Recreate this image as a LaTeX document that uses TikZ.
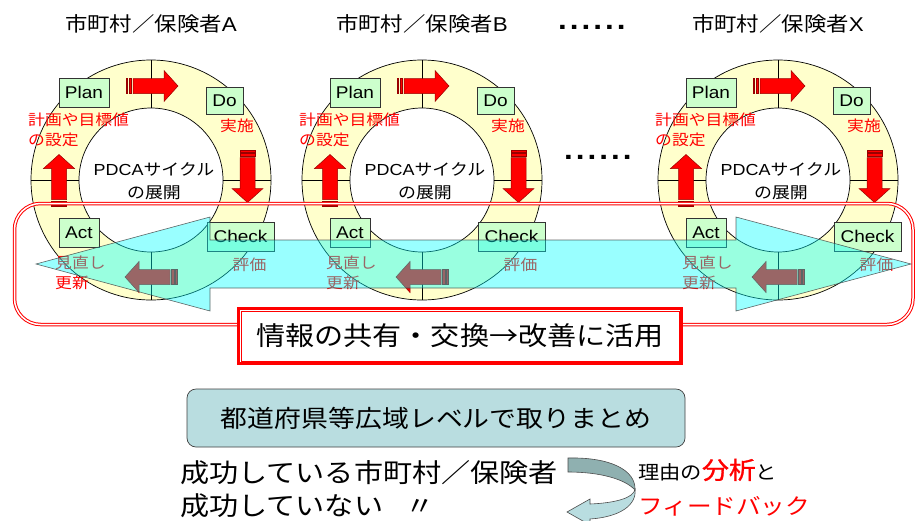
\documentclass[tikz,border=0pt]{standalone}
\usepackage{fontspec}
\setmainfont{Noto Sans CJK JP}[FakeStretch=1.12]
\newfontfamily\lat{Liberation Sans}[FakeStretch=1.12]
\newfontfamily\jpb{Noto Sans CJK JP}[FakeStretch=1.12,FakeBold=1.2]
\definecolor{ringfill}{HTML}{FFFFCC}
\definecolor{boxfill}{HTML}{CCFFCC}
\definecolor{sumfill}{HTML}{B9DDE0}
\definecolor{darkband}{HTML}{8FB0B0}
\definecolor{arrcyan}{HTML}{00FFFF}
\definecolor{arrline}{HTML}{990000}
\newcommand\sixdots{.\kern3pt.\kern3pt.\kern3pt.\kern3pt.\kern3pt.}
\tikzset{
  arrfill/.style={fill=red, draw=arrline, line width=0.5pt},
  redarr/.pic={
    \filldraw[arrfill] (-26,-7.5) rectangle (-24.5,7.5);
    \filldraw[arrfill] (-23,-7.5) rectangle (-20.5,7.5);
    \filldraw[arrfill] (-19,-7.5) -- (12,-7.5) -- (12,-15.5) -- (26,0) -- (12,15.5) -- (12,7.5) -- (-19,7.5) -- cycle;
  },
  ringline/.style={draw=black, line width=0.7pt},
  lbox/.style={draw=black!80, fill=boxfill, line width=0.6pt, inner sep=0pt,
    font=\lat\fontsize{17}{20}\selectfont, text=black},
  redtxt/.style={text=red, font=\fontsize{15}{20}\selectfont, inner sep=0pt, align=left},
  ctrtxt/.style={align=center, font=\fontsize{16}{23}\selectfont, inner sep=0pt},
  headtxt/.style={font=\fontsize{20}{24}\selectfont, inner sep=0pt},
  dotstxt/.style={font=\lat\bfseries\fontsize{28}{30}\selectfont, inner sep=0pt, anchor=base west},
  redframe/.style={draw=red, line width=1pt, double=white, double distance=1.5pt, rounded corners=26pt},
  infobox/.style={draw=red, line width=3pt, fill=white, minimum width=443pt, minimum height=55pt,
    inner sep=0pt, font=\fontsize{26}{30}\selectfont},
  sumbox/.style={draw=black!75, line width=0.7pt, fill=sumfill, rounded corners=9pt,
    minimum width=498pt, minimum height=58pt, inner sep=0pt, font=\fontsize{24}{28}\selectfont},
  bigtxt/.style={font=\fontsize{26}{30}\selectfont, inner sep=0pt, anchor=base west}
}
\begin{document}
\begin{tikzpicture}[x=1pt,y=-1pt]
\useasboundingbox (0,0) rectangle (915,520);
\fill[white] (0,0) rectangle (915,520);

\foreach \cx/\nm in {151/A,422/B,778/X}{
  \fill[ringfill, ringline] (\cx,180) circle[radius=120pt];
  \fill[white, ringline] (\cx,180) circle[radius=72pt];
  \draw[line width=0.7pt] (\cx,60) -- (\cx,108) (\cx,252) -- (\cx,300)
        (\cx-120,180) -- (\cx-72,180) (\cx+72,180) -- (\cx+120,180);
  \pic at (\cx+1,86) {redarr};
  \pic[rotate=-90] at (\cx+96.5,176.5) {redarr};
  \pic[rotate=180] at (\cx,277) {redarr};
  \pic[rotate=90] at (\cx-92,180.5) {redarr};
  \node[lbox, minimum width=50pt, minimum height=29pt] (plan\nm) at (\cx-67,92.5) {Plan};
  \node[lbox, minimum width=37pt, minimum height=27pt] (do\nm) at (\cx+73.5,100.5) {Do};
  \node[lbox, minimum width=67pt, minimum height=29pt] (check\nm) at (\cx+89.5,236.5) {Check};
  \node[lbox, minimum width=40pt, minimum height=29pt] (act\nm) at (\cx-72,232.5) {Act};
  \node[redtxt, anchor=west] (plantxt\nm) at (\cx-123,129.5) {計画や目標値\\の設定};
  \node[redtxt] (dotxt\nm) at (\cx+86,126) {実施};
  \node[redtxt] (checktxt\nm) at (\cx+98.5,265) {評価};
  \node[redtxt, anchor=west] (acttxt\nm) at (\cx-96,272.5) {見直し\\更新};
  \node[ctrtxt] (ctr\nm) at (\cx+3,181.5) {{\lat PDCA}サイクル\\の展開};
  \node[headtxt] (head\nm) at (\cx,24) {市町村／保険者{\lat \nm}};
}
\node[dotstxt] (topdots) at (558,29) {\sixdots};
\node[dotstxt] (middots) at (564,159) {\sixdots};

% red double frame
\draw[redframe] (14.5,203.5) rectangle (913,324.5);

% big translucent double arrow
\filldraw[fill=arrcyan, fill opacity=0.4, draw=black!75, draw opacity=0.8, line width=0.6pt]
  (36,264) -- (210,217) -- (210,240) -- (736,240) -- (736,217) -- (911,264)
  -- (736,311) -- (736,288) -- (210,288) -- (210,311) -- cycle;

% info box
\node[infobox] (info) at (460,336) {情報の共有・交換→改善に活用};
\draw[red, line width=1pt] ([shift={(4,4)}]info.north west) rectangle ([shift={(-4,-4)}]info.south east);

% summary box
\node[sumbox] (sum) at (436,418) {都道府県等広域レベルで取りまとめ};

\node[bigtxt] (line1) at (180,482) {成功している市町村／保険者};
\node[bigtxt] (line2) at (180,515) {成功していない\hspace{22pt}〃};

% curved arrow
\filldraw[fill=darkband, draw=black!70, line width=0.6pt]
  (568,458) .. controls (610,457) and (636,470) .. (635,490)
  .. controls (625,479) and (600,472) .. (568,472) -- cycle;
\filldraw[fill=sumfill, draw=black!70, line width=0.6pt]
  (635,489) .. controls (634,498) and (615,503) .. (590,504) -- (590,499) -- (567,512)
  -- (590,525) -- (590,519) .. controls (620,517) and (637,505) .. (635,489) -- cycle;

\node[anchor=base west, inner sep=0pt] (reason) at (638,479)
  {{\fontsize{19}{22}\selectfont 理由の}{\jpb\color{red}\fontsize{24}{28}\selectfont 分析}{\fontsize{19}{22}\selectfont と}};
\node[anchor=base west, inner sep=0pt, text=red, font=\fontsize{22}{26}\selectfont] (feedback) at (638,514) {フィードバック};
\end{tikzpicture}
\end{document}
